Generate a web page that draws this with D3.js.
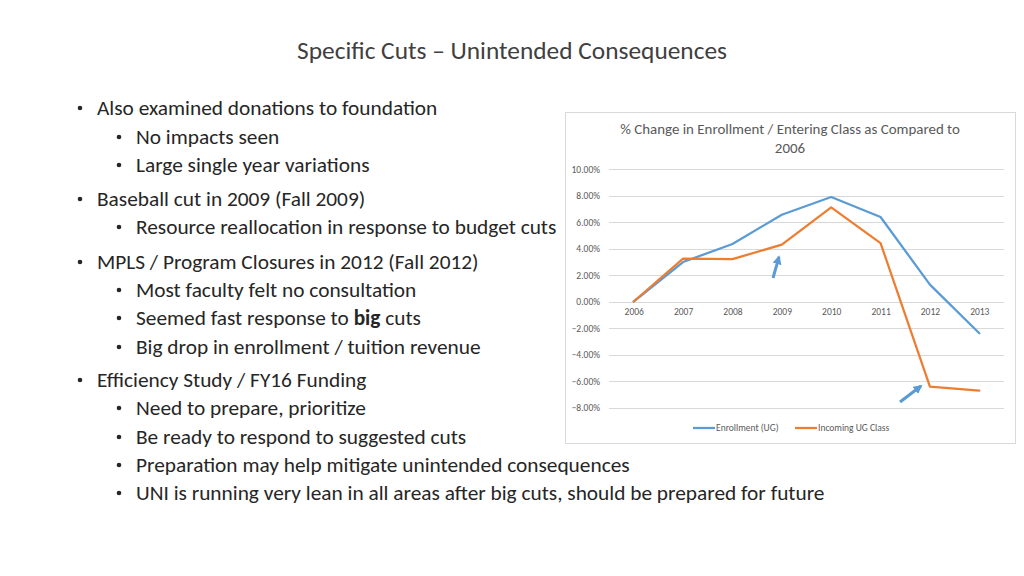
<!DOCTYPE html>
<html><head><meta charset="utf-8">
<script src="https://cdn.jsdelivr.net/npm/d3@7"></script>
<style>
body{margin:0;background:#fff;}
svg{display:block;}
</style></head>
<body>
<svg id="c" width="1024" height="576"></svg>
<script>
const years = ["2006","2007","2008","2009","2010","2011","2012","2013"];
const enrollment = [0, 2.98, 4.34, 6.55, 7.89, 6.38, 1.27, -2.4];
const incoming = [0, 3.23, 3.2, 4.29, 7.11, 4.41, -6.43, -6.73];
const yTicks = [10, 8, 6, 4, 2, 0, -2, -4, -6, -8];
const seriesNames = ["Enrollment (UG)", "Incoming UG Class"];
const seriesColors = ["#5b9bd5", "#ed7d31"];
const slideTitle = "Specific Cuts \u2013 Unintended Consequences";
const chartTitle = ["% Change in Enrollment / Entering Class as Compared to", "2006"];
const bullets = [
  [0, "Also examined donations to foundation"],
  [1, "No impacts seen"],
  [1, "Large single year variations"],
  [0, "Baseball cut in 2009 (Fall 2009)"],
  [1, "Resource reallocation in response to budget cuts"],
  [0, "MPLS / Program Closures in 2012 (Fall 2012)"],
  [1, "Most faculty felt no consultation"],
  [1, "Seemed fast response to <b>big</b> cuts"],
  [1, "Big drop in enrollment / tuition revenue"],
  [0, "Efficiency Study / FY16 Funding"],
  [1, "Need to prepare, prioritize"],
  [1, "Be ready to respond to suggested cuts"],
  [1, "Preparation may help mitigate unintended consequences"],
  [1, "UNI is running very lean in all areas after big cuts, should be prepared for future"]
];
const bulletY = [108, 137, 165, 199, 227, 262, 290, 318, 347, 380, 408, 437, 465, 493];

const FONT = "Carlito, Calibri, 'Liberation Sans Narrow', 'Open Sans', sans-serif";
const svg = d3.select("#c");

// slide title
const tt = svg.append("text").attr("x", 512).attr("y", 50).attr("text-anchor", "middle")
  .attr("dominant-baseline", "central")
  .style("font-family", FONT).style("font-size", "23px").style("font-weight", 300)
  .style("fill", "#404040").text(slideTitle);
tt.style("font-size", (23 * 430 / tt.node().getComputedTextLength()) + "px");

// bullets
const bg = svg.append("g");
let fs = 20;
const btexts = bullets.map((b, i) => {
  const lvl = b[0];
  const xText = lvl === 0 ? 97 : 136;
  const xDot = lvl === 0 ? 80 : 119;
  bg.append("circle").attr("cx", xDot).attr("cy", bulletY[i]).attr("r", 2.3).attr("fill", "#262626");
  const t = bg.append("text").attr("x", xText).attr("y", bulletY[i]).attr("dominant-baseline", "central")
    .style("font-family", FONT).style("font-size", fs + "px").style("fill", "#262626");
  const parts = b[1].split(/(<b>.*?<\/b>)/);
  parts.forEach(p => {
    if (!p) return;
    if (p.startsWith("<b>")) t.append("tspan").style("font-weight", "bold").text(p.replace(/<\/?b>/g, ""));
    else t.append("tspan").text(p);
  });
  return t;
});
const longest = btexts[13].node().getComputedTextLength();
const scaleF = 689 / longest;
btexts.forEach(t => t.style("font-size", (fs * scaleF) + "px"));

// chart box
const box = {x: 565, y: 112, w: 450, h: 331};
svg.append("rect").attr("x", box.x + 0.5).attr("y", box.y + 0.5).attr("width", box.w).attr("height", box.h)
  .attr("fill", "#fff").attr("stroke", "#d9d9d9").attr("stroke-width", 1);

const ct = svg.append("g").selectAll("text").data(chartTitle).join("text")
  .attr("x", 790).attr("y", (d, i) => 129 + i * 18.5).attr("text-anchor", "middle").attr("dominant-baseline", "central")
  .style("font-family", FONT).style("font-size", "13px").style("fill", "#595959").text(d => d);
const ctW = ct.nodes()[0].getComputedTextLength();
ct.style("font-size", (13 * 340 / ctW) + "px");

const x = d3.scalePoint().domain(years).range([633.7, 979.3]);
const y = d3.scaleLinear().domain([-8, 10]).range([407.5, 169]);

// gridlines
svg.append("g").selectAll("line").data(yTicks).join("line")
  .attr("x1", 609).attr("x2", 1004)
  .attr("y1", d => Math.round(y(d)) + 0.5).attr("y2", d => Math.round(y(d)) + 0.5)
  .attr("stroke", "#d9d9d9").attr("stroke-width", 1);

// y labels
const yAxis = d3.axisLeft(y).tickValues(yTicks).tickFormat(d => d3.format(".2f")(d) + "%").tickSize(0).tickPadding(0);
const ya = svg.append("g").attr("transform", "translate(600,0)").call(yAxis);
ya.select(".domain").remove();
ya.selectAll("text").style("font-family", FONT).style("font-size", "9.5px").style("fill", "#595959");

// x labels
const xAxis = d3.axisBottom(x).tickSize(0).tickPadding(0);
const xa = svg.append("g").attr("transform", "translate(0,308)").call(xAxis);
xa.select(".domain").remove();
xa.selectAll("text").style("font-family", FONT).style("font-size", "9.5px").style("fill", "#595959");

// lines
const line = d3.line().x((d, i) => x(years[i])).y(d => y(d));
[enrollment, incoming].forEach((s, k) => {
  svg.append("path").datum(s).attr("d", line).attr("fill", "none")
    .attr("stroke", seriesColors[k]).attr("stroke-width", 2.25).attr("stroke-linejoin", "round").attr("stroke-linecap", "round");
});

// legend
const leg = svg.append("g");
const legX = [693, 795];
seriesNames.forEach((n, k) => {
  leg.append("line").attr("x1", legX[k]).attr("x2", legX[k] + 22).attr("y1", 428).attr("y2", 428)
    .attr("stroke", seriesColors[k]).attr("stroke-width", 2.25);
  leg.append("text").attr("x", legX[k] + 23).attr("y", 428).attr("dominant-baseline", "central")
    .style("font-family", FONT).style("font-size", "9.5px").style("fill", "#595959").text(n);
});

// annotation arrows
const defs = svg.append("defs");
defs.append("marker").attr("id", "ah").attr("viewBox", "0 0 10 10").attr("refX", 8).attr("refY", 5)
  .attr("markerWidth", 3).attr("markerHeight", 3).attr("orient", "auto")
  .append("path").attr("d", "M0,0 L10,5 L0,10 Z").attr("fill", "#5b9bd5");
const arrows = [[773, 278, 779, 257], [900, 402, 921, 386]];
svg.append("g").selectAll("line").data(arrows).join("line")
  .attr("x1", d => d[0]).attr("y1", d => d[1]).attr("x2", d => d[2]).attr("y2", d => d[3])
  .attr("stroke", "#5b9bd5").attr("stroke-width", 3).attr("marker-end", "url(#ah)");
</script>
</body></html>
